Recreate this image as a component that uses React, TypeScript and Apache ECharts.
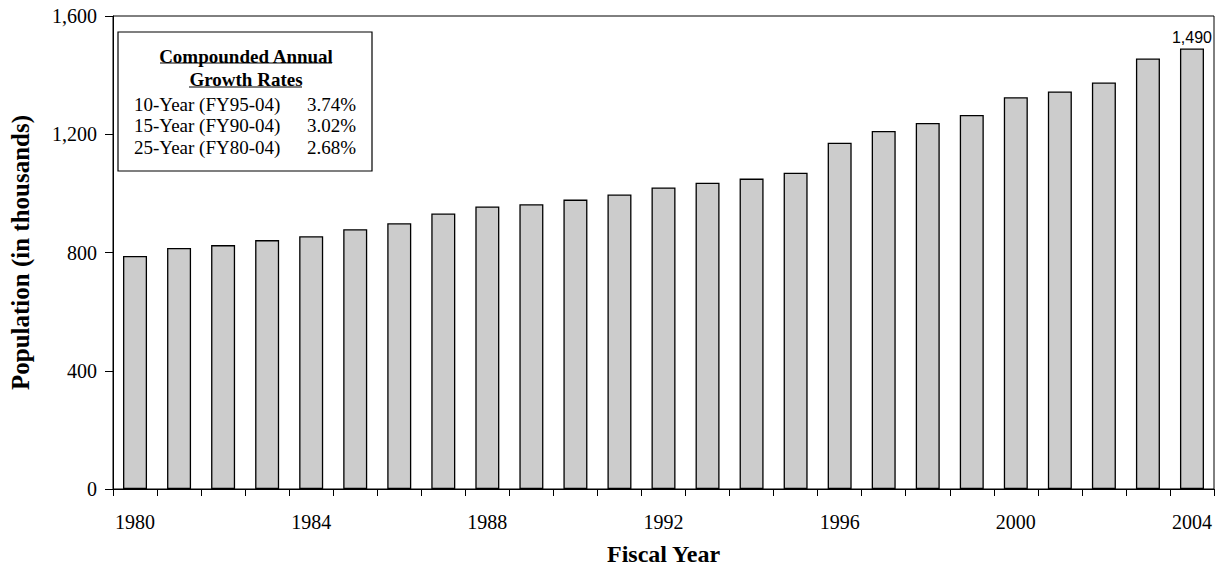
import React, { useEffect, useRef } from "react";
import * as echarts from "echarts";

const years = ["1980","1981","1982","1983","1984","1985","1986","1987","1988","1989","1990","1991","1992","1993","1994","1995","1996","1997","1998","1999","2000","2001","2002","2003","2004"];
const population = [788, 815, 825, 842, 855, 879, 899, 932, 956, 963, 979, 996, 1020, 1036, 1050, 1070, 1171, 1211, 1238, 1265, 1325, 1345, 1375, 1456, 1490];
const legendTitle = ["Compounded Annual", "Growth Rates"];
const growthLabels = ["10-Year (FY95-04)", "15-Year (FY90-04)", "25-Year (FY80-04)"];
const growthRates = ["3.74%", "3.02%", "2.68%"];

const serif = "'Liberation Serif', 'DejaVu Serif', serif";
const sans = "'Liberation Sans', Arial, sans-serif";

export default function App() {
  const ref = useRef<HTMLDivElement>(null);
  useEffect(() => {
    const chart = echarts.init(ref.current!, null, { renderer: "svg" });
    const graphics: any[] = [
      { type: "rect", shape: { x: 118, y: 32, width: 254, height: 139 }, style: { fill: "#fff", stroke: "#000", lineWidth: 1.2 }, z: 10 },
      { type: "text", x: 246, y: 56, style: { text: legendTitle[0], font: `bold 19px ${serif}`, fill: "#000", align: "center", verticalAlign: "middle" }, z: 11 },
      { type: "line", shape: { x1: 160, y1: 63, x2: 332, y2: 63 }, style: { stroke: "#000", lineWidth: 1.2 }, z: 11 },
      { type: "text", x: 246, y: 79, style: { text: legendTitle[1], font: `bold 19px ${serif}`, fill: "#000", align: "center", verticalAlign: "middle" }, z: 11 },
      { type: "line", shape: { x1: 189, y1: 87, x2: 302, y2: 87 }, style: { stroke: "#000", lineWidth: 1.2 }, z: 11 },
    ];
    growthLabels.forEach((l, i) => {
      const y = 104 + i * 21.5;
      graphics.push({ type: "text", x: 134, y, style: { text: l, font: `19px ${serif}`, fill: "#000", align: "left", verticalAlign: "middle" }, z: 11 });
      graphics.push({ type: "text", x: 356, y, style: { text: growthRates[i], font: `19px ${serif}`, fill: "#000", align: "right", verticalAlign: "middle" }, z: 11 });
    });
    chart.setOption({
      animation: false,
      grid: { left: 101, right: 11, top: 16, bottom: 78, show: true, borderColor: "#000", borderWidth: 1 },
      xAxis: {
        type: "category",
        data: years,
        name: "Fiscal Year",
        nameLocation: "middle",
        nameGap: 53,
        nameTextStyle: { fontFamily: serif, fontWeight: "bold", fontSize: 24, color: "#000" },
        axisLine: { lineStyle: { color: "#000", width: 1 } },
        axisTick: { show: true, interval: 0, length: 7, lineStyle: { color: "#000" } },
        axisLabel: { interval: 3, fontFamily: serif, fontSize: 20, color: "#000", margin: 23 },
      },
      yAxis: {
        type: "value",
        min: 0,
        max: 1600,
        interval: 400,
        name: "Population (in thousands)",
        nameLocation: "middle",
        nameGap: 80,
        nameTextStyle: { fontFamily: serif, fontWeight: "bold", fontSize: 25, color: "#000" },
        axisLine: { show: true, lineStyle: { color: "#000", width: 1 } },
        axisTick: { show: true, length: 8, lineStyle: { color: "#000" } },
        splitLine: { show: false },
        axisLabel: {
          fontFamily: serif, fontSize: 20, color: "#000", margin: 16,
          formatter: (v: number) => v.toLocaleString("en-US"),
        },
      },
      series: [
        {
          type: "bar",
          data: population.map((v, i) => ({
            value: v,
            label: i === population.length - 1
              ? { show: true, position: "top", distance: 3, formatter: (p: any) => Number(p.value).toLocaleString("en-US"), fontFamily: sans, fontSize: 16, color: "#000" }
              : { show: false },
          })),
          barWidth: 24,
          itemStyle: { color: "#cccccc", borderColor: "#000", borderWidth: 1.3 },
        },
      ],
      graphic: graphics,
    });
    return () => chart.dispose();
  }, []);
  return <div ref={ref} style={{ width: 1225, height: 571, position: "absolute", left: 0, top: 0 }} />;
}
